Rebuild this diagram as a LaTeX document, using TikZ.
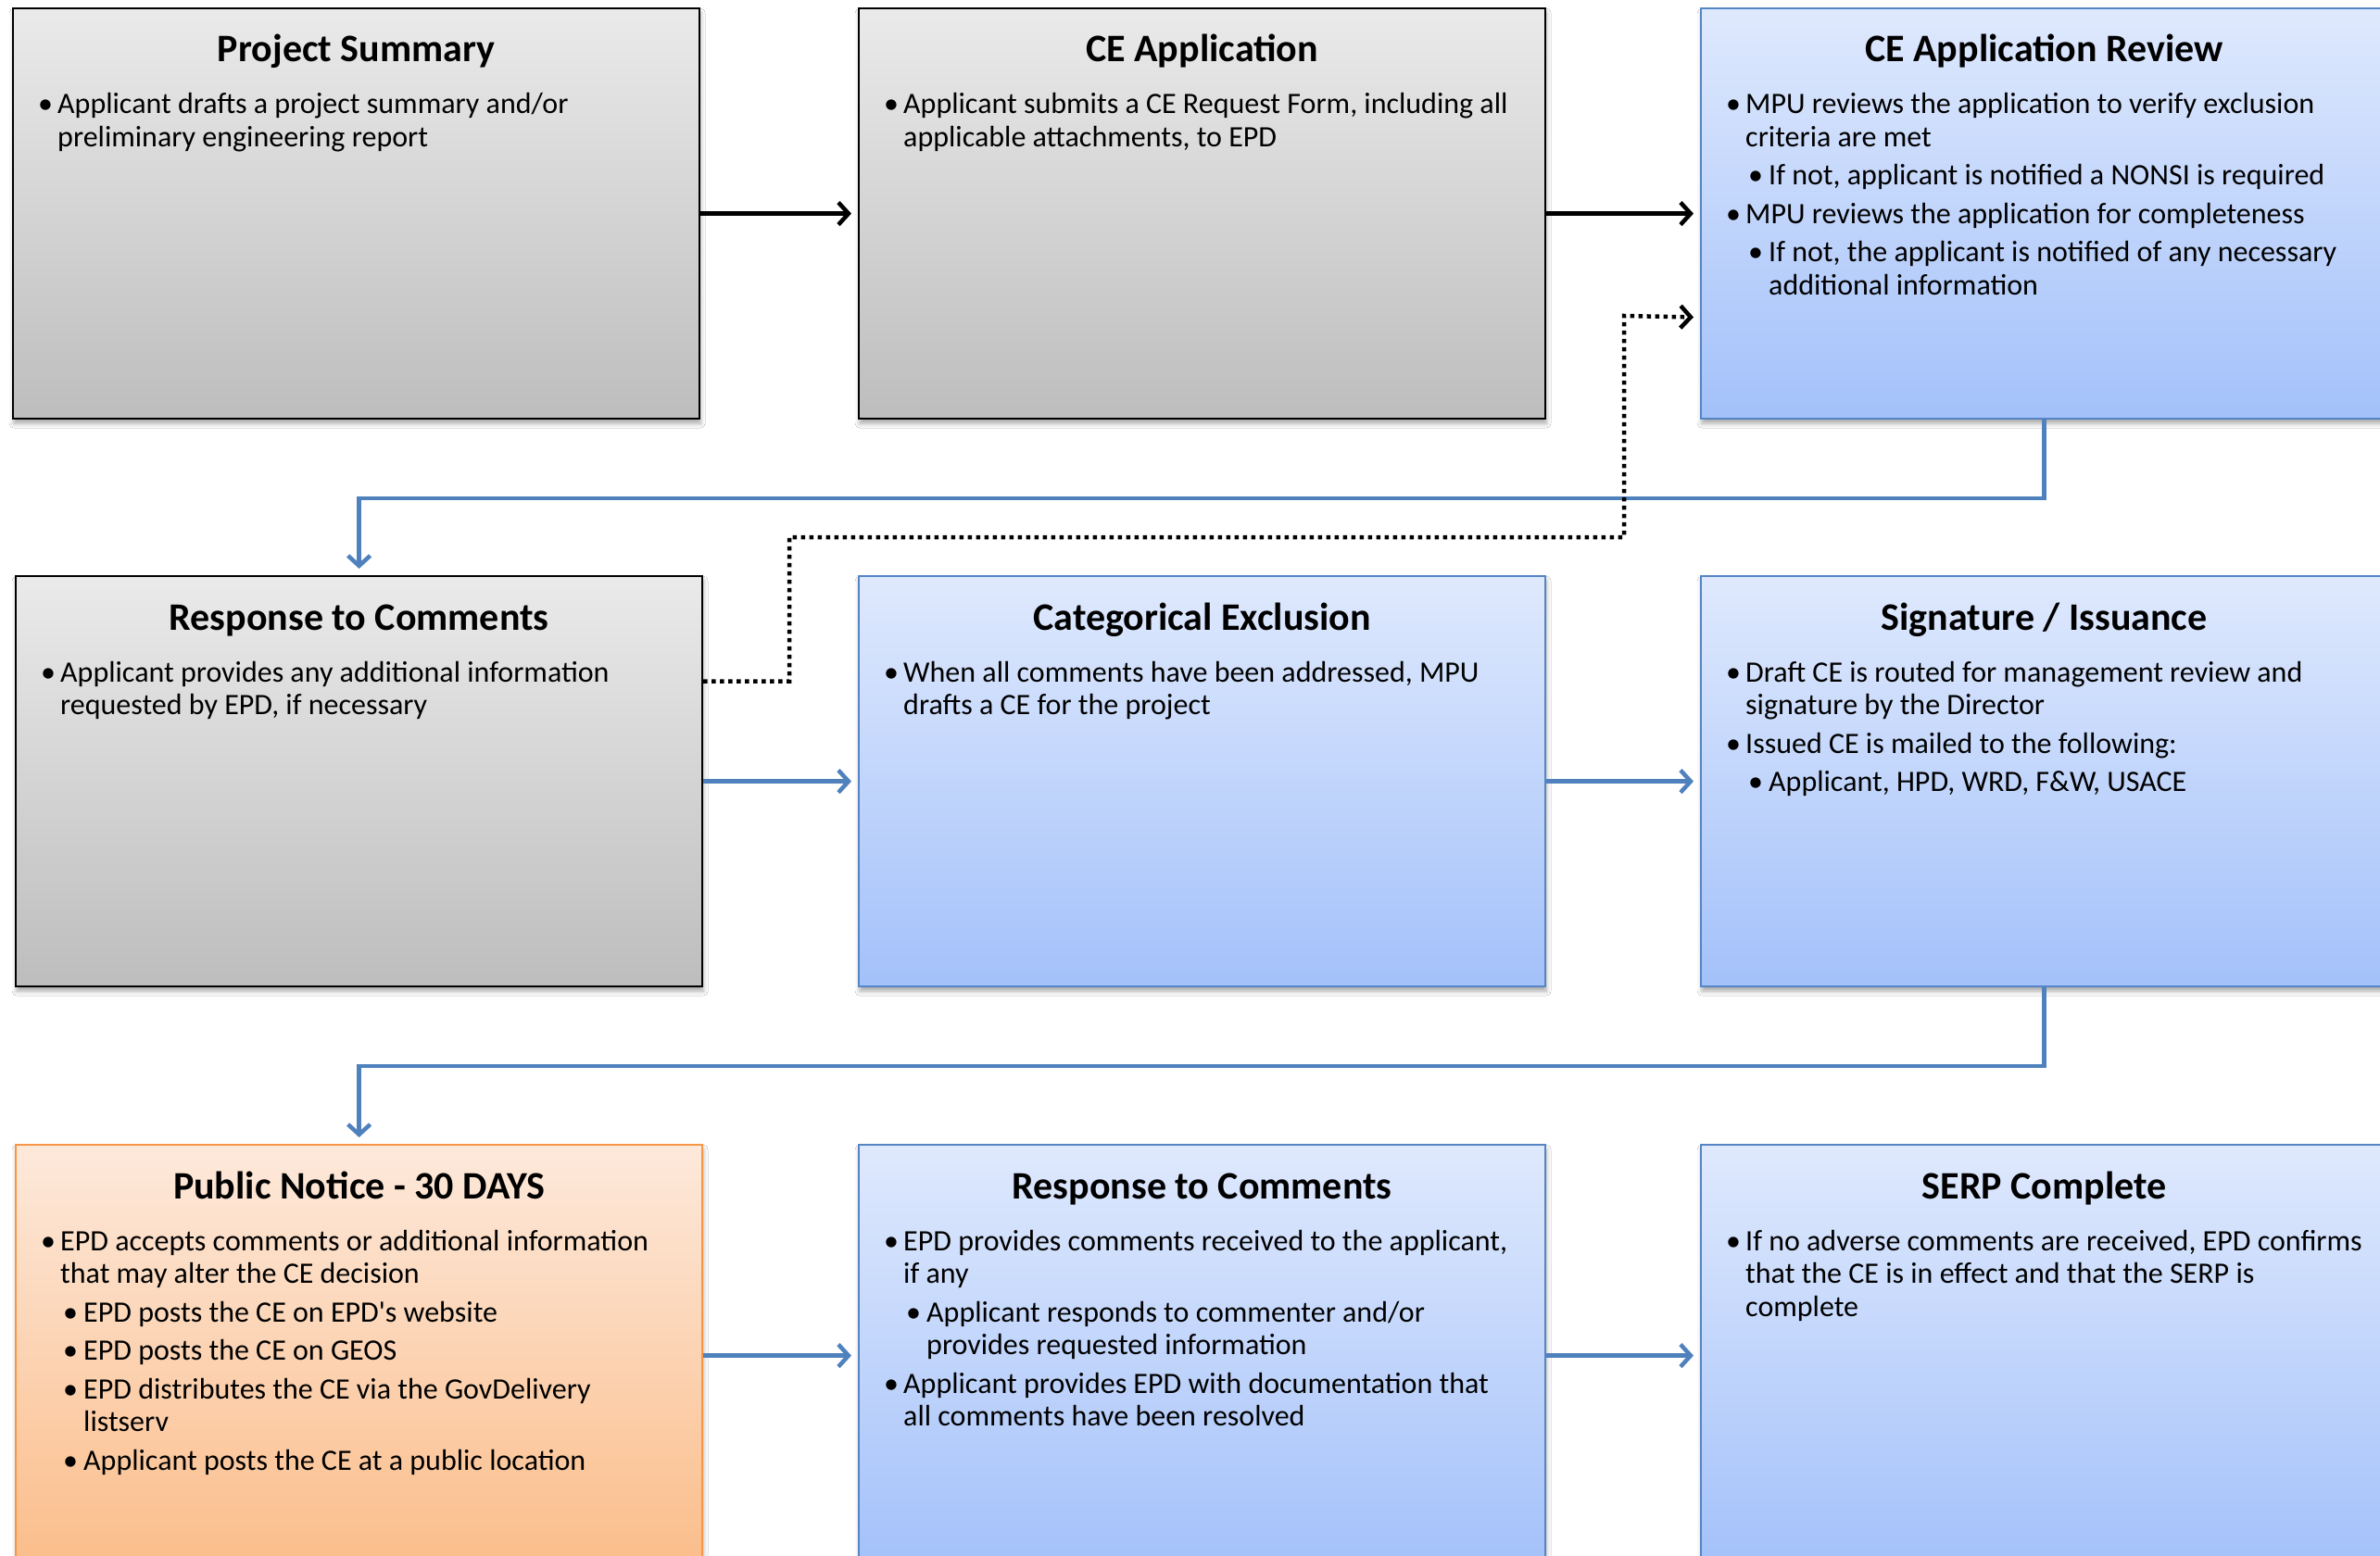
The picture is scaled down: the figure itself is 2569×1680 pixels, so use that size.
\documentclass[tikz,border=0pt]{standalone}
\usepackage{fontspec}
\setmainfont{Carlito}
\newfontfamily\rawfont{Carlito}
\usetikzlibrary{arrows.meta,shadows.blur}
\definecolor{grayTop}{HTML}{EAEAEA}
\definecolor{grayBot}{HTML}{BDBDBD}
\definecolor{blueTop}{HTML}{DFE9FD}
\definecolor{blueBot}{HTML}{A3C1FA}
\definecolor{orTop}{HTML}{FDE9DB}
\definecolor{orBot}{HTML}{FBBD8A}
\definecolor{blueLine}{HTML}{4F81BD}
\definecolor{blueEdge}{HTML}{5585C4}
\definecolor{orEdge}{HTML}{F79646}
\newcommand\lvlone[1]{\par\hangindent=21pt\hangafter=1\noindent\makebox[21pt][l]{\textbullet}#1}
\newcommand\lvltwo[1]{\par\hangindent=46pt\hangafter=1\noindent\hspace*{24pt}\makebox[22pt][l]{\textbullet}#1}
\newcommand\bodytext[1]{\parbox[t]{740pt}{\setlength\parskip{6pt}#1}}
\newcommand\apos{{\rawfont'}}
\tikzset{
  box/.style={rectangle, minimum width=741pt, minimum height=443pt, inner sep=0pt, anchor=north west, line width=2.2pt,
    blur shadow={shadow xshift=1pt, shadow yshift=-5pt, shadow blur radius=5pt, shadow opacity=35}},
  graybox/.style={box, draw=black, top color=grayTop, bottom color=grayBot},
  bluebox/.style={box, draw=blueEdge, top color=blueTop, bottom color=blueBot},
  orbox/.style={box, draw=orEdge, top color=orTop, bottom color=orBot},
  ttl/.style={font=\fontsize{42}{48}\selectfont\bfseries, inner sep=0pt, anchor=base},
  bdy/.style={font=\fontsize{32}{35.5}\selectfont, inner sep=0pt, anchor=base west},
  blackarrow/.style={line width=4.5pt, draw=black, -{Straight Barb[length=11pt,width=24pt]}, shorten >=7pt},
  bluearrow/.style={line width=4.5pt, draw=blueLine, -{Straight Barb[length=11pt,width=24pt]}, shorten >=7pt},
  dotarrow/.style={line width=4.5pt, draw=black, dash pattern=on 4.5pt off 4.5pt, -{Straight Barb[length=11pt,width=24pt]}, shorten >=7pt}
}
\begin{document}
\begin{tikzpicture}[x=1pt,y=-1pt]
\useasboundingbox (0,0) rectangle (2569,1680);
\fill[white] (0,0) rectangle (2569,1680);

% Row 1
\node[graybox] (ps) at (13,8) {};
\node[graybox] (cea) at (926,8) {};
\node[bluebox] (car) at (1835,8) {};
% Row 2
\node[graybox] (rc1) at (16,621) {};
\node[bluebox] (cex) at (926,621) {};
\node[bluebox] (sig) at (1835,621) {};
% Row 3
\node[orbox, minimum height=455pt] (pn) at (16,1235) {};
\node[bluebox, minimum height=455pt] (rc2) at (926,1235) {};
\node[bluebox, minimum height=455pt] (serp) at (1835,1235) {};

% Titles
\node[ttl] (pst) at ([yshift=-59pt]ps.north) {Project Summary};
\node[ttl] (ceat) at ([yshift=-59pt]cea.north) {CE Application};
\node[ttl] (cart) at ([yshift=-59pt]car.north) {CE Application Review};
\node[ttl] (rc1t) at ([yshift=-59pt]rc1.north) {Response to Comments};
\node[ttl] (cext) at ([yshift=-59pt]cex.north) {Categorical Exclusion};
\node[ttl] (sigt) at ([yshift=-59pt]sig.north) {Signature / Issuance};
\node[ttl, yshift=-59pt] (pnt) at (pn.north |- rc2.north) {Public Notice - 30 DAYS};
\node[ttl, yshift=-59pt] (rc2t) at (rc2.north) {Response to Comments};
\node[ttl, yshift=-59pt] (serpt) at (serp.north |- rc2.north) {SERP Complete};

% Bodies
\node[bdy] (psb) at ([xshift=28pt,yshift=-115pt]ps.north west) {\bodytext{%
\lvlone{Applicant drafts a project summary and/or\\preliminary engineering report}}};
\node[bdy] (ceab) at ([xshift=28pt,yshift=-115pt]cea.north west) {\bodytext{%
\lvlone{Applicant submits a CE Request Form, including all\\applicable attachments, to EPD}}};
\node[bdy] (carb) at ([xshift=28pt,yshift=-115pt]car.north west) {\bodytext{%
\lvlone{MPU reviews the application to verify exclusion\\criteria are met}
\lvltwo{If not, applicant is notified a NONSI is required}
\lvlone{MPU reviews the application for completeness}
\lvltwo{If not, the applicant is notified of any necessary\\additional information}}};
\node[bdy] (rc1b) at ([xshift=28pt,yshift=-115pt]rc1.north west) {\bodytext{%
\lvlone{Applicant provides any additional information\\requested by EPD, if necessary}}};
\node[bdy] (cexb) at ([xshift=28pt,yshift=-115pt]cex.north west) {\bodytext{%
\lvlone{When all comments have been addressed, MPU\\drafts a CE for the project}}};
\node[bdy] (sigb) at ([xshift=28pt,yshift=-115pt]sig.north west) {\bodytext{%
\lvlone{Draft CE is routed for management review and\\signature by the Director}
\lvlone{Issued CE is mailed to the following:}
\lvltwo{Applicant, HPD, WRD, F\&W, USACE}}};
\node[bdy] (pnb) at ([xshift=28pt,yshift=-115pt]pn.north west) {\bodytext{%
\lvlone{EPD accepts comments or additional information\\that may alter the CE decision}
\lvltwo{EPD posts the CE on EPD\apos s website}
\lvltwo{EPD posts the CE on GEOS}
\lvltwo{EPD distributes the CE via the GovDelivery\\listserv}
\lvltwo{Applicant posts the CE at a public location}}};
\node[bdy] (rc2b) at ([xshift=28pt,yshift=-115pt]rc2.north west) {\bodytext{%
\lvlone{EPD provides comments received to the applicant,\\if any}
\lvltwo{Applicant responds to commenter and/or\\provides requested information}
\lvlone{Applicant provides EPD with documentation that\\all comments have been resolved}}};
\node[bdy] (serpb) at ([xshift=28pt,yshift=-115pt]serp.north west) {\bodytext{%
\lvlone{If no adverse comments are received, EPD confirms\\that the CE is in effect and that the SERP is\\complete}}};

% Connectors
\draw[blackarrow] (ps.east) -- (cea.west);
\draw[blackarrow] (cea.east) -- (car.west);
\draw[bluearrow] (car.south) -- ++(0,85) -| (rc1.north);
\draw[bluearrow] (rc1.east) -- (cex.west);
\draw[bluearrow] (cex.east) -- (sig.west);
\draw[bluearrow] (sig.south) -- ++(0,85) -| (pn.north);
\draw[bluearrow] (pn.east |- rc2.east) -- (rc2.west);
\draw[bluearrow] (rc2.east) -- (serp.west);
\coordinate (dA) at (852,580);
\coordinate (dB) at (1753,341);
\draw[dotarrow] ([yshift=108pt]rc1.east) -| (dA) -| (dB) -- ([yshift=-112pt]car.west);
\end{tikzpicture}
\end{document}
